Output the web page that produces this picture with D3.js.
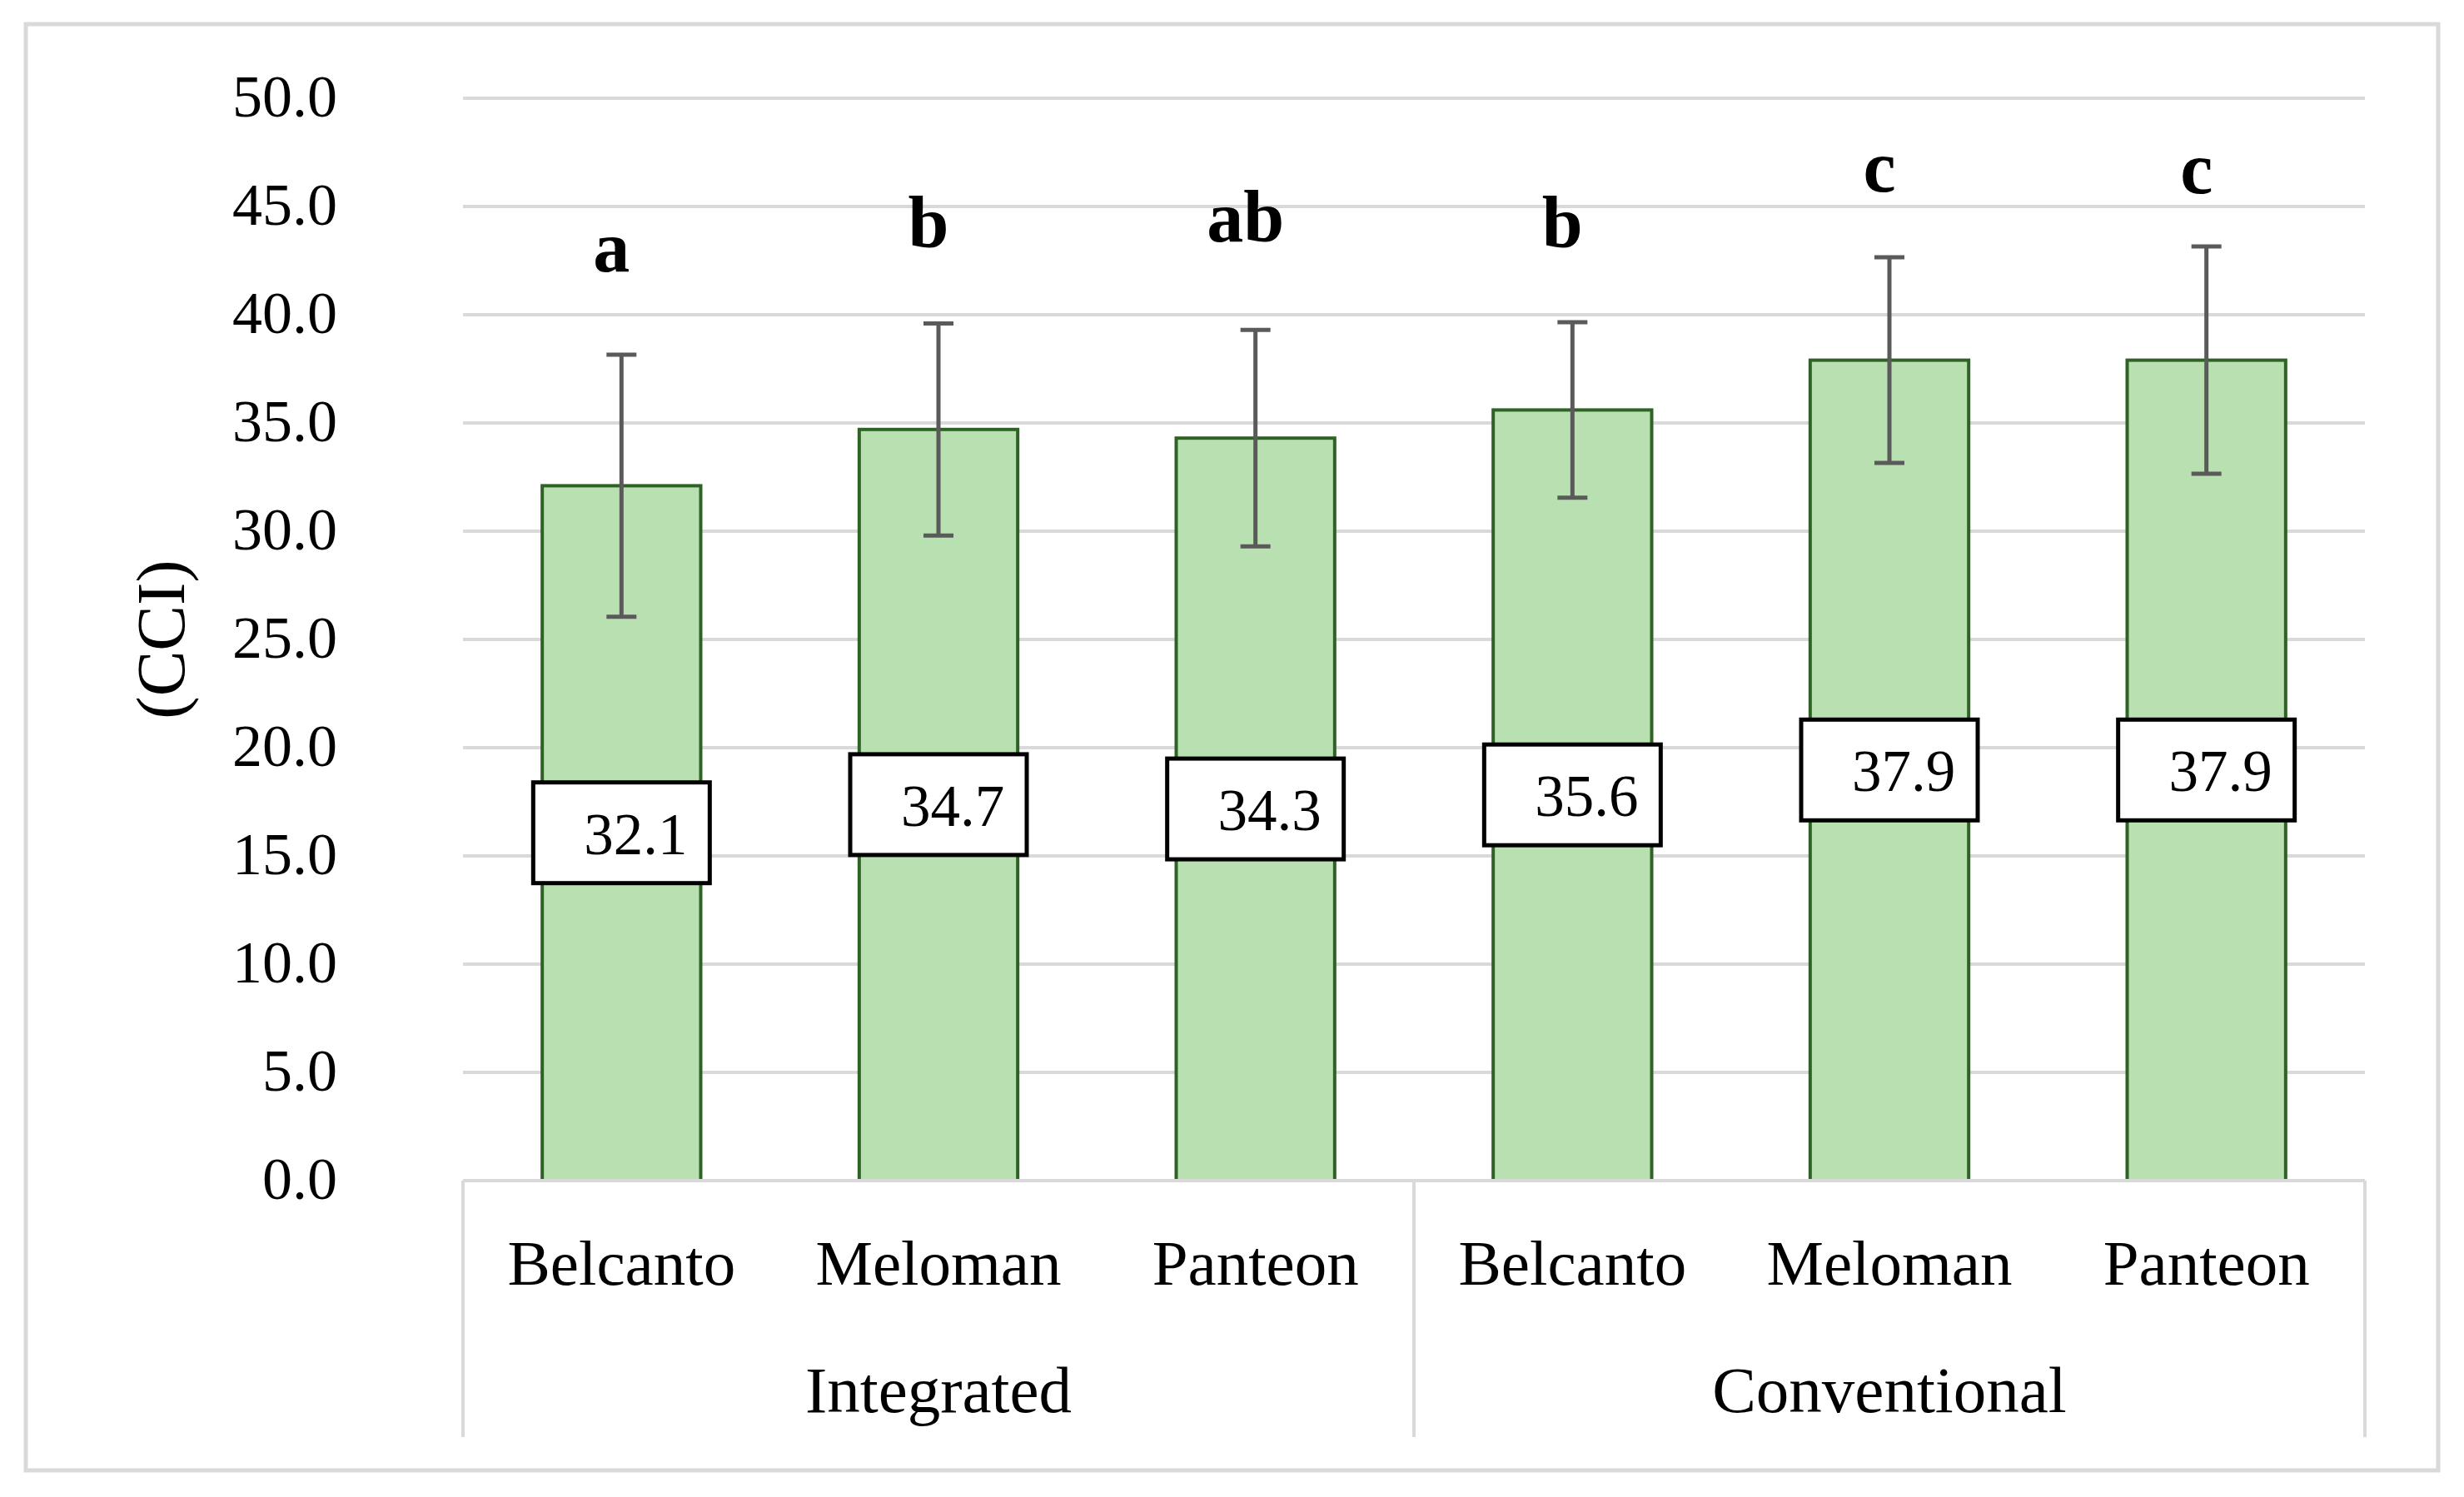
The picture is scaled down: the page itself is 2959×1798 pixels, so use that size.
<!DOCTYPE html>
<html>
<head>
<meta charset="utf-8">
<script src="https://cdn.jsdelivr.net/npm/d3@7"></script>
<style>
  body { margin: 0; background: #fff; }
  text { font-family: "Liberation Serif", "Times New Roman", serif; fill: #000; }
</style>
</head>
<body>
<div id="vis"></div>
<script>
const FRAME_WIDTH = 2959;
const FRAME_HEIGHT = 1798;
const MARGINS = {left: 556, right: 119, top: 118, bottom: 380};

// chart data
const groups = ["Integrated", "Conventional"];
const cultivars = ["Belcanto", "Meloman", "Panteon"];
const means = [32.1, 34.7, 34.3, 35.6, 37.9, 37.9];
const errors = [6.05, 4.9, 5.0, 4.05, 4.75, 5.25];
const letters = ["a", "b", "ab", "b", "c", "c"];
// height (in CCI units) where each letter sits
const letterAt = [42.0, 43.1, 43.4, 43.1, 45.7, 45.6];
const yTicks = [0, 5, 10, 15, 20, 25, 30, 35, 40, 45, 50];

// one entry per bar
const data = [];
groups.forEach((g) => {
    cultivars.forEach((c) => {
        const i = data.length;
        data.push({key: g + "|" + c, group: g, cultivar: c,
                   mean: means[i], err: errors[i], letter: letters[i], letterAt: letterAt[i]});
    });
});

const X0 = MARGINS.left;
const X1 = FRAME_WIDTH - MARGINS.right;
const Y0 = MARGINS.top;
const Y1 = FRAME_HEIGHT - MARGINS.bottom;

const svg = d3.select("#vis")
    .append("svg")
    .attr("width", FRAME_WIDTH)
    .attr("height", FRAME_HEIGHT);

// outer chart border
svg.append("rect")
    .attr("x", 31).attr("y", 29)
    .attr("width", 2897).attr("height", 1737)
    .attr("fill", "#fff")
    .attr("stroke", "#d9d9d9")
    .attr("stroke-width", 5);

const X_SCALE = d3.scaleBand()
    .domain(data.map((d) => d.key))
    .range([X0, X1])
    .paddingInner(0.5)
    .paddingOuter(0.25);

const Y_SCALE = d3.scaleLinear()
    .domain([0, 50])
    .range([Y1, Y0]);

// gridlines
svg.append("g")
    .selectAll("line")
    .data(yTicks.filter((t) => t > 0))
    .enter()
    .append("line")
    .attr("x1", X0).attr("x2", X1)
    .attr("y1", (d) => Y_SCALE(d)).attr("y2", (d) => Y_SCALE(d))
    .attr("stroke", "#d9d9d9")
    .attr("stroke-width", 4);

// y axis labels
const yAxis = svg.append("g")
    .attr("transform", "translate(405,0)")
    .call(d3.axisLeft(Y_SCALE).tickValues(yTicks).tickFormat(d3.format(".1f")).tickSize(0).tickPadding(0));
yAxis.select(".domain").remove();
yAxis.selectAll("text")
    .attr("font-family", "Liberation Serif")
    .attr("font-size", 72)
    .attr("fill", "#000")
    .attr("dy", "0.3em");

// y axis title
svg.append("text")
    .attr("transform", "translate(221,768) rotate(-90)")
    .attr("text-anchor", "middle")
    .attr("font-size", 82)
    .text("(CCI)");

// bars
svg.append("g")
    .selectAll("rect")
    .data(data)
    .enter()
    .append("rect")
    .attr("x", (d) => X_SCALE(d.key))
    .attr("y", (d) => Y_SCALE(d.mean))
    .attr("width", X_SCALE.bandwidth())
    .attr("height", (d) => Y1 - Y_SCALE(d.mean))
    .attr("fill", "#b9e0b1")
    .attr("stroke", "#2f6326")
    .attr("stroke-width", 4);

// error bars
const eb = svg.append("g")
    .attr("stroke", "#5a5a5a")
    .attr("stroke-width", 5);
data.forEach((d) => {
    const cx = X_SCALE(d.key) + X_SCALE.bandwidth() / 2;
    eb.append("line")
        .attr("x1", cx).attr("x2", cx)
        .attr("y1", Y_SCALE(d.mean - d.err)).attr("y2", Y_SCALE(d.mean + d.err));
    [d.mean - d.err, d.mean + d.err].forEach((v) => {
        eb.append("line")
            .attr("x1", cx - 18).attr("x2", cx + 18)
            .attr("y1", Y_SCALE(v)).attr("y2", Y_SCALE(v));
    });
});

// value label boxes
const lab = svg.append("g")
    .selectAll("g")
    .data(data)
    .enter()
    .append("g")
    .attr("transform", (d) => "translate(" + (X_SCALE(d.key) + X_SCALE.bandwidth() / 2) + "," + Y_SCALE(d.mean / 2) + ")");
lab.append("rect")
    .attr("x", -106).attr("y", -61)
    .attr("width", 212).attr("height", 121)
    .attr("fill", "#fff")
    .attr("stroke", "#000")
    .attr("stroke-width", 5);
lab.append("text")
    .attr("x", 17).attr("y", 25)
    .attr("text-anchor", "middle")
    .attr("font-size", 71)
    .text((d) => d.mean.toFixed(1));

// significance letters
svg.append("g")
    .selectAll("text")
    .data(data)
    .enter()
    .append("text")
    .attr("x", (d) => X_SCALE(d.key) + X_SCALE.bandwidth() / 2 - 12)
    .attr("y", (d) => Y_SCALE(d.letterAt))
    .attr("text-anchor", "middle")
    .attr("font-weight", "bold")
    .attr("font-size", 88)
    .text((d) => d.letter);

// category axis box
const axisG = svg.append("g")
    .attr("stroke", "#d9d9d9")
    .attr("stroke-width", 4);
axisG.append("line")
    .attr("x1", X0).attr("x2", X1)
    .attr("y1", Y1).attr("y2", Y1);
const step = X_SCALE.step();
const groupEdges = [X0, X0 + 3 * step, X1];
groupEdges.forEach((x) => {
    axisG.append("line")
        .attr("x1", x).attr("x2", x)
        .attr("y1", Y1).attr("y2", 1726);
});

// cultivar labels
svg.append("g")
    .selectAll("text")
    .data(data)
    .enter()
    .append("text")
    .attr("x", (d) => X_SCALE(d.key) + X_SCALE.bandwidth() / 2)
    .attr("y", 1543)
    .attr("text-anchor", "middle")
    .attr("font-size", 77)
    .text((d) => d.cultivar);

// group labels
svg.append("g")
    .selectAll("text")
    .data(groups)
    .enter()
    .append("text")
    .attr("x", (d, i) => (groupEdges[i] + groupEdges[i + 1]) / 2)
    .attr("y", 1696)
    .attr("text-anchor", "middle")
    .attr("font-size", 79)
    .text((d) => d);
</script>
</body>
</html>
